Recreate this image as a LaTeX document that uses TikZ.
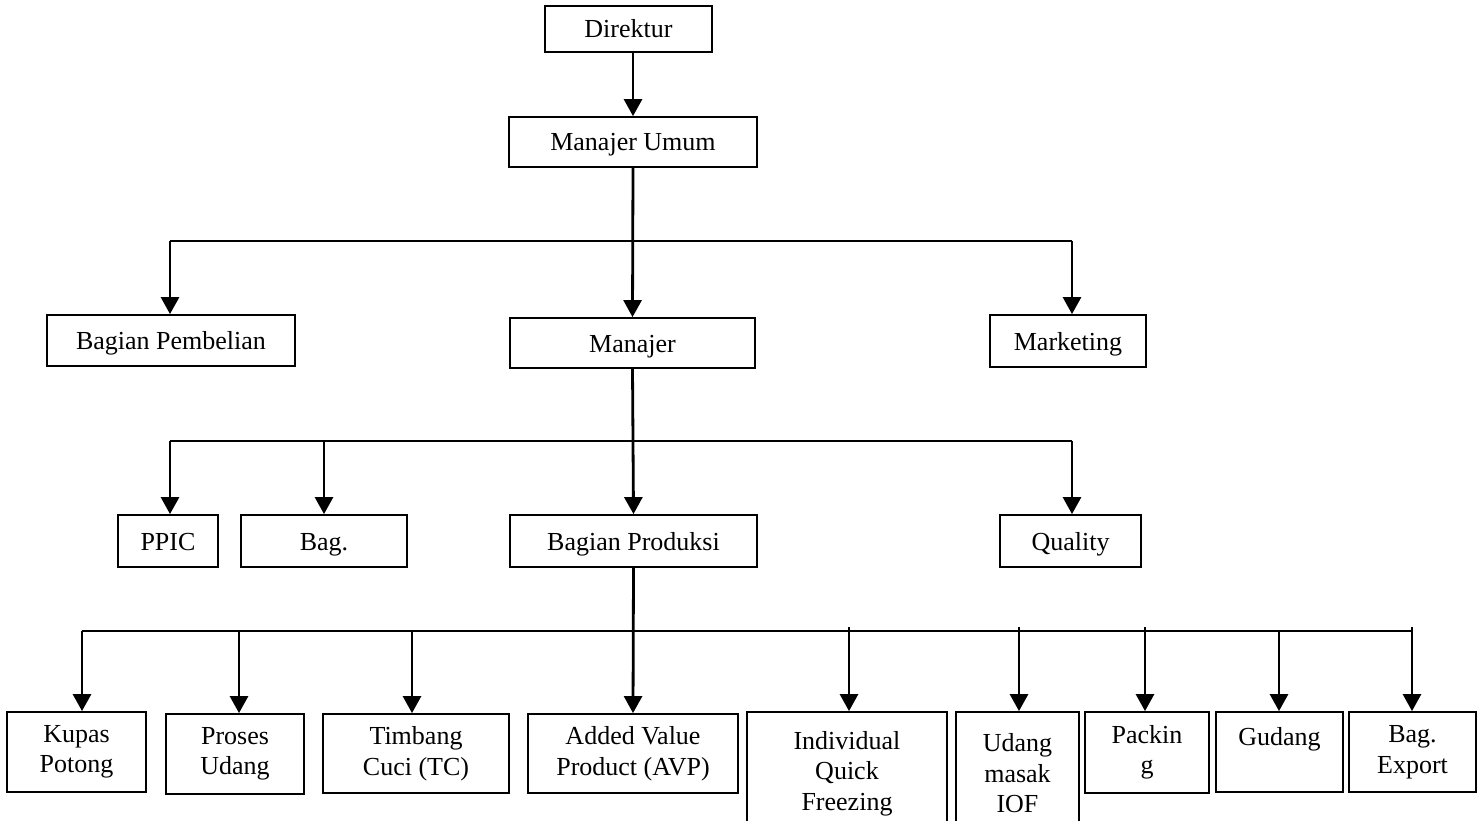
\documentclass[tikz,border=0pt]{standalone}
\usepackage{fontspec}
\setmainfont{Liberation Serif}
\usetikzlibrary{arrows.meta}

\begin{document}
\begin{tikzpicture}[x=1pt,y=-1pt,
		kotak/.style={draw,line width=1.8pt,inner sep=0pt,align=center,
			font=\fontsize{26}{30.5}\selectfont},
		satu/.style={kotak,text height=18pt,text depth=-4pt},
		garis/.style={line width=2.4pt},
		panah/.style={line width=2.8pt,-{Triangle[length=17pt,width=18pt]}}]
		\useasboundingbox (0,0) rectangle (1483,821);
\par
% pimpinan
		\node[satu,minimum width=167pt,minimum height=46pt] (direktur) at (628.5,29) {Direktur};
		\node[satu,minimum width=248pt,minimum height=50pt] (umum) at (633,142) {Manajer Umum};
		\node[satu,minimum width=248pt,minimum height=51pt] (pembelian) at (171,340.5) {Bagian Pembelian};
		\node[satu,minimum width=245pt,minimum height=50pt] (manajer) at (632.5,343) {Manajer};
		\node[satu,minimum width=156pt,minimum height=52pt] (marketing) at (1068,341) {Marketing};
\par
% bagian di bawah manajer
		\node[satu,minimum width=100pt,minimum height=52pt] (ppic) at (168,541) {PPIC};
		\node[satu,minimum width=166pt,minimum height=52pt] (bag) at (324,541) {Bag.};
		\node[satu,minimum width=247pt,minimum height=52pt] (produksi) at (633.5,541) {Bagian Produksi};
		\node[satu,minimum width=141pt,minimum height=52pt] (quality) at (1070.5,541) {Quality};
\par
% unit produksi
		\node[kotak,minimum width=139pt,minimum height=80pt] (kupas) at (76.5,752) {Kupas\\Potong};
		\node[kotak,minimum width=138pt,minimum height=80pt] (proses) at (235,754) {Proses\\Udang};
		\node[kotak,minimum width=186pt,minimum height=79pt] (timbang) at (416,753.5) {Timbang\\Cuci (TC)};
		\node[kotak,minimum width=210pt,minimum height=79pt] (avp) at (633,753.5) {Added Value\\Product (AVP)};
		\node[kotak,minimum width=200pt,minimum height=123pt] (iqf) at (847,773.5) {Individual\\Quick\\Freezing};
		\node[kotak,minimum width=123pt,minimum height=123pt] (udang) at (1017.5,773.5) {Udang\\masak\\IOF};
		\node[kotak,minimum width=124pt,minimum height=81pt] (packing) at (1147,752.5) {Packin\\g};
		\node[kotak,minimum width=127pt,minimum height=80pt] (gudang) at (1279.5,752) {Gudang\\~};
		\node[kotak,minimum width=127pt,minimum height=80pt] (export) at (1412.5,752) {Bag.\\Export};
\par
% garis
		\draw[panah] (direktur.south -| umum) -- (umum.north);
		\draw[panah] (umum.south) -- (manajer.north);
		\coordinate (kiri1) at (170,241);
		\coordinate (kanan1) at (1072,241);
		\draw[garis] (kiri1) -- (kanan1);
		\draw[panah] (kiri1) -- (kiri1 |- pembelian.north);
		\draw[panah] (kanan1) -- (kanan1 |- marketing.north);
\par
\draw[panah] (manajer.south) -- (produksi.north);
		\coordinate (kiri2) at (170,441);
		\coordinate (kanan2) at (1072,441);
		\draw[garis] (kiri2) -- (kanan2);
		\draw[panah] (kiri2) -- (kiri2 |- ppic.north);
		\draw[panah] (324,441) coordinate (tbag) -- (tbag |- bag.north);
		\draw[panah] (kanan2) -- (kanan2 |- quality.north);
\par
\draw[panah] (produksi.south) -- (avp.north);
		\coordinate (kiri3) at (82,631);
		\coordinate (kanan3) at (1412,631);
		\draw[garis] (kiri3) -- (kanan3);
		\foreach \x/\y/\n in {82/631/kupas, 239/631/proses, 412/631/timbang, 849/627/iqf,
			1019/627/udang, 1145/627/packing, 1279/631/gudang, 1412/627/export}
		{
			\coordinate (p\n) at (\x,\y);
			\draw[panah] (p\n) -- (p\n |- \n.north);
		}
	\end{tikzpicture}
\end{document}
